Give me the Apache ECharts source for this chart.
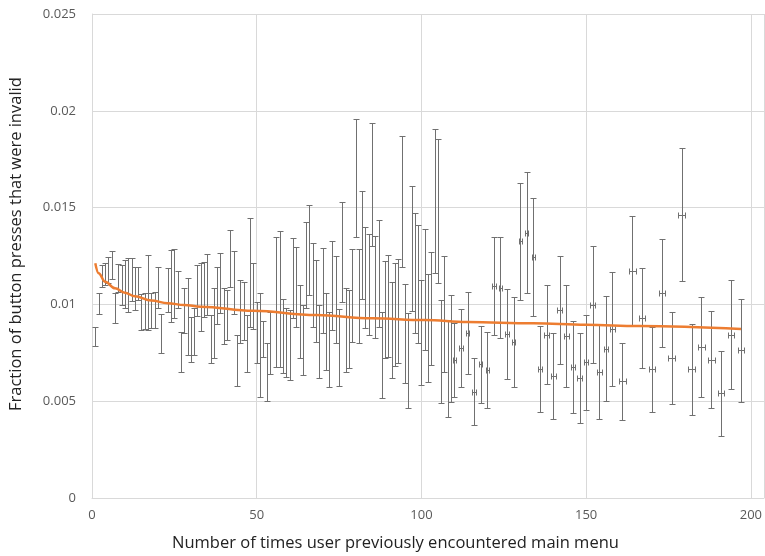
<!DOCTYPE html>
<html>
<head>
<meta charset="utf-8">
<script src="https://cdn.jsdelivr.net/npm/echarts@6/dist/echarts.min.js"></script>
<style>
  html, body { margin: 0; padding: 0; background: #fff; }
  #chart { width: 765px; height: 556px; }
</style>
</head>
<body>
<div id="chart"></div>
<script>
// x positions (times user previously encountered main menu)
const xs = [
  1, 2, 3, 4, 5, 6, 7, 8, 9, 10, 11, 12, 13, 14, 15, 16, 17, 18, 19, 20, 21,
  23, 24, 25, 26, 27, 28, 29, 30, 31, 32, 33, 34, 35, 36, 37, 38, 39, 40, 41, 42, 43, 44, 45, 46, 47, 48, 49, 50, 51, 52, 53, 54,
  56, 57, 58, 59, 60, 61, 62, 63, 64, 65, 66, 67, 68, 69, 70, 71, 72, 73, 74, 75, 76, 77, 78, 79, 80,
  81, 82, 83, 84, 85, 86, 87, 88, 89, 90, 91, 92, 93, 94, 95, 96, 97, 98, 99, 100, 101, 102, 103, 104, 105, 106, 107, 108, 109,
  110, 112, 114, 116, 118, 120, 122, 124, 126, 128, 130, 132, 134, 136, 138, 140, 142, 144, 146, 148, 150, 152, 154, 156, 158,
  161, 164, 167, 170, 173, 176, 179, 182, 185, 188, 191, 194, 197
]

// fraction of invalid presses (centre of each error bar)
const means = [
  0.00834, 0.01005, 0.01147, 0.01157, 0.01178, 0.01203, 0.00981, 0.01136, 0.01100, 0.01105, 0.01100, 0.01129, 0.01082, 0.01108, 0.00961, 0.00966, 0.01061, 0.00968, 0.00971, 0.01087, 0.00850,
  0.01074, 0.01095, 0.01108, 0.01077, 0.00754, 0.00968, 0.00937, 0.00819, 0.00860, 0.01072, 0.01038, 0.01077, 0.01103, 0.00821, 0.00904, 0.01046, 0.01110, 0.00940, 0.00945, 0.01237, 0.01113, 0.00710, 0.00963, 0.00966, 0.00798, 0.01165, 0.01043, 0.00855, 0.00790, 0.00821, 0.00651, 0.00801,
  0.01012, 0.01028, 0.00837, 0.00803, 0.00790, 0.01136, 0.01090, 0.00912, 0.00816, 0.01203, 0.01281, 0.01100, 0.01018, 0.00808, 0.01072, 0.00860, 0.00767, 0.01098, 0.01025, 0.00777, 0.01271, 0.00868, 0.00873, 0.01046, 0.01653,
  0.01043, 0.01307, 0.01139, 0.01103, 0.01619, 0.01090, 0.01160, 0.00739, 0.00974, 0.00992, 0.00868, 0.00948, 0.00966, 0.01531, 0.00850, 0.00710, 0.01289, 0.01162, 0.01105, 0.00855, 0.01077, 0.00878, 0.00979, 0.01534, 0.01482, 0.00757, 0.00950, 0.00669, 0.00772,
  0.00713, 0.00775, 0.00852, 0.00550, 0.00690, 0.00661, 0.01095, 0.01087, 0.00847, 0.00806, 0.01325, 0.01371, 0.01245, 0.00666, 0.00844, 0.00630, 0.00971, 0.00837, 0.00677, 0.00620, 0.00700, 0.00999, 0.00653, 0.00772, 0.00873,
  0.00602, 0.01175, 0.00930, 0.00664, 0.01059, 0.00723, 0.01464, 0.00664, 0.00780, 0.00715, 0.00540, 0.00844, 0.00762
]

// half height of each vertical error bar
const errs = [
  0.00049, 0.00054, 0.00057, 0.00057, 0.00067, 0.00072, 0.00077, 0.00072, 0.00103, 0.00124, 0.00139, 0.00111, 0.00111, 0.00085, 0.00093, 0.00093, 0.00194, 0.00090, 0.00093, 0.00106, 0.00101,
  0.00114, 0.00186, 0.00178, 0.00096, 0.00103, 0.00116, 0.00199, 0.00116, 0.00121, 0.00132, 0.00176, 0.00142, 0.00158, 0.00124, 0.00181, 0.00147, 0.00155, 0.00145, 0.00129, 0.00147, 0.00163, 0.00132, 0.00163, 0.00150, 0.00147, 0.00281, 0.00170, 0.00158, 0.00269, 0.00093, 0.00150, 0.00160,
  0.00336, 0.00351, 0.00191, 0.00178, 0.00181, 0.00207, 0.00207, 0.00189, 0.00181, 0.00222, 0.00232, 0.00217, 0.00212, 0.00189, 0.00220, 0.00199, 0.00194, 0.00230, 0.00225, 0.00199, 0.00258, 0.00217, 0.00201, 0.00240, 0.00305,
  0.00243, 0.00279, 0.00261, 0.00261, 0.00318, 0.00263, 0.00276, 0.00222, 0.00250, 0.00263, 0.00248, 0.00266, 0.00269, 0.00338, 0.00256, 0.00245, 0.00323, 0.00310, 0.00305, 0.00271, 0.00312, 0.00279, 0.00292, 0.00372, 0.00372, 0.00266, 0.00300, 0.00250, 0.00276,
  0.00191, 0.00201, 0.00212, 0.00173, 0.00199, 0.00196, 0.00253, 0.00261, 0.00232, 0.00232, 0.00302, 0.00312, 0.00305, 0.00222, 0.00256, 0.00222, 0.00279, 0.00263, 0.00238, 0.00232, 0.00245, 0.00302, 0.00245, 0.00271, 0.00294,
  0.00199, 0.00281, 0.00258, 0.00220, 0.00279, 0.00238, 0.00343, 0.00235, 0.00258, 0.00250, 0.00220, 0.00281, 0.00266
]

// half width of the horizontal error bar (only the binned points have one)
const xErrs = [
  0, 0, 0, 0, 0, 0, 0, 0, 0, 0, 0, 0, 0, 0, 0, 0, 0, 0, 0, 0, 0,
  0, 0, 0, 0, 0, 0, 0, 0, 0, 0, 0, 0, 0, 0, 0, 0, 0, 0, 0, 0, 0, 0, 0, 0, 0, 0, 0, 0, 0, 0, 0, 0,
  0, 0, 0, 0, 0, 0, 0, 0, 0, 0, 0, 0, 0, 0, 0, 0, 0, 0, 0, 0, 0, 0, 0, 0, 0,
  0, 0, 0, 0, 0, 0, 0, 0, 0, 0, 0, 0, 0, 0, 0, 0, 0, 0, 0, 0, 0, 0, 0, 0, 0, 0, 0, 0, 0,
  0.5, 0.5, 0.5, 0.5, 0.5, 0.5, 0.5, 0.5, 0.5, 0.5, 0.5, 0.5, 0.5, 0.7, 0.7, 0.7, 0.7, 0.7, 0.7, 0.7, 0.7, 0.7, 0.7, 0.7, 0.7,
  1, 1, 1, 1, 1, 1, 1, 1, 1, 1, 1, 1, 1
]

// orange trend line
const trendX = [1, 2, 4, 7, 10, 13, 18, 23, 28, 33, 49, 68, 85, 101, 114, 134, 150, 166, 197]
const trendY = [0.01212, 0.01161, 0.01117, 0.01083, 0.01060, 0.01042, 0.01020, 0.01006, 0.00997, 0.00988,
  0.00967, 0.00945, 0.00928, 0.00919, 0.00909, 0.00902, 0.00895, 0.00888, 0.00873]

const xTickLabels = ['0', '50', '100', '150', '200']
const yTickLabels = ['0', '0.005', '0.01', '0.015', '0.02', '0.025']

const barData = xs.map((x, i) => [x, means[i], errs[i], xErrs[i]])
const trendData = trendX.map((x, i) => [x, trendY[i]])

const chart = echarts.init(document.getElementById('chart'))

// 误差线
const renderErrorBar = (params, api) => {
  const x = api.value(0)
  const m = api.value(1)
  const e = api.value(2)
  const xe = api.value(3)
  const top = api.coord([x, m + e])
  const bot = api.coord([x, m - e])
  const px = Math.round(top[0]) + 0.5
  const ty = Math.round(top[1]) + 0.5
  const by = Math.round(bot[1]) + 0.5
  const cap = 3
  const style = { stroke: '#707070', lineWidth: 1, fill: null }
  const children = [
    { type: 'line', shape: { x1: px, y1: ty, x2: px, y2: by }, style },
    { type: 'line', shape: { x1: px - cap, y1: ty, x2: px + cap, y2: ty }, style },
    { type: 'line', shape: { x1: px - cap, y1: by, x2: px + cap, y2: by }, style }
  ]
  if (xe > 0) {
    const l = api.coord([x - xe, m])
    const r = api.coord([x + xe, m])
    const cy = Math.round(l[1]) + 0.5
    const lx = Math.round(l[0]) + 0.5
    const rx = Math.round(r[0]) + 0.5
    children.push(
      { type: 'line', shape: { x1: lx, y1: cy, x2: rx, y2: cy }, style },
      { type: 'line', shape: { x1: lx, y1: cy - 3, x2: lx, y2: cy + 3 }, style },
      { type: 'line', shape: { x1: rx, y1: cy - 3, x2: rx, y2: cy + 3 }, style }
    )
  }
  return { type: 'group', children }
}

const option = {
  animation: false,
  grid: { left: 92, right: 0, top: 14, bottom: 58, containLabel: false },
  xAxis: {
    type: 'value',
    min: 0,
    max: 204,
    interval: 50,
    axisLine: { show: true, lineStyle: { color: '#d9d9d9', width: 1 } },
    axisTick: { show: false },
    splitLine: { show: true, lineStyle: { color: '#d9d9d9', width: 1 } },
    axisLabel: {
      margin: 11,
      color: '#595959',
      fontFamily: 'Open Sans',
      fontSize: 13,
      showMaxLabel: false,
      formatter: v => xTickLabels[xTickLabels.indexOf(String(v))] || ''
    }
  },
  yAxis: {
    type: 'value',
    min: 0,
    max: 0.025,
    interval: 0.005,
    axisLine: { show: true, lineStyle: { color: '#d9d9d9', width: 1 } },
    axisTick: { show: false },
    splitLine: { show: true, lineStyle: { color: '#d9d9d9', width: 1 } },
    axisLabel: {
      margin: 16,
      color: '#595959',
      fontFamily: 'Open Sans',
      fontSize: 13,
      formatter: v => yTickLabels[Math.round(v / 0.005)]
    }
  },
  graphic: [
    {
      type: 'text',
      left: 172,
      top: 535,
      style: {
        text: 'Number of times user previously encountered main menu',
        font: '16.5px "Open Sans"',
        fill: '#222'
      }
    },
    {
      type: 'text',
      x: 8,
      y: 411,
      rotation: Math.PI / 2,
      style: {
        text: 'Fraction of button presses that were invalid',
        font: '16.5px "Open Sans"',
        fill: '#222',
        verticalAlign: 'top',
        align: 'left'
      }
    }
  ],
  series: [
    {
      type: 'custom',
      name: 'error bars',
      renderItem: renderErrorBar,
      data: barData,
      encode: { x: 0, y: 1 },
      z: 2
    },
    {
      type: 'line',
      name: 'trend',
      data: trendData,
      smooth: 0.4,
      smoothMonotone: 'x',
      showSymbol: false,
      lineStyle: { color: '#ed7d31', width: 2.5 },
      z: 3
    }
  ]
}

chart.setOption(option)
</script>
</body>
</html>
